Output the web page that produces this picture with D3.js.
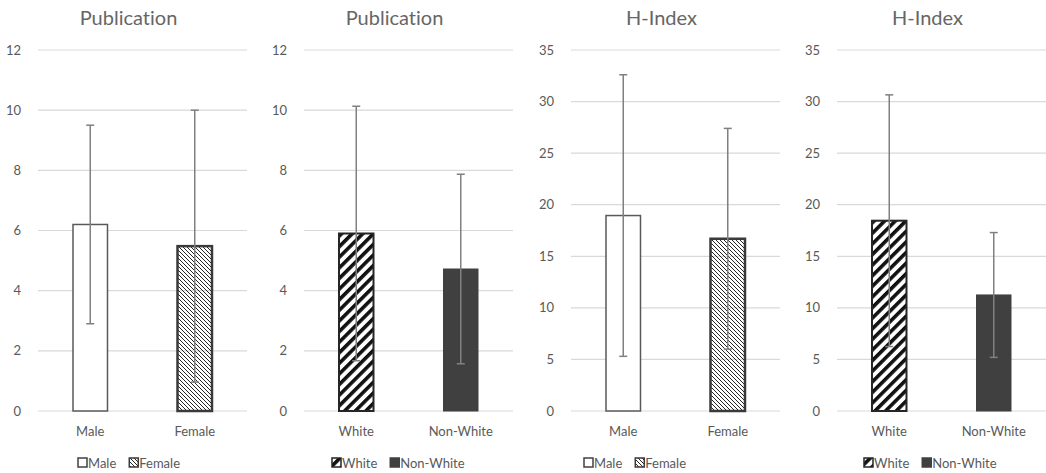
<!DOCTYPE html>
<html>
<head>
<meta charset="utf-8">
<script src="https://cdn.jsdelivr.net/npm/d3@7"></script>
<style>
  body { margin: 0; background: #fff; }
  text { font-family: Lato, "Liberation Sans", sans-serif; fill: #595959; font-variant-ligatures: none; }
</style>
</head>
<body>
<div id="chart"></div>
<script>
// values (mean and SD for each group)
const titles = ["Publication", "Publication", "H-Index", "H-Index"];
const categories = [["Male", "Female"], ["White", "Non-White"], ["Male", "Female"], ["White", "Non-White"]];
const means = [[6.2, 5.48], [5.9, 4.72], [18.95, 16.7], [18.45, 11.25]];
const sds = [[3.3, 4.52], [4.23, 3.15], [13.65, 10.7], [12.2, 6.05]];
const yMax = [12, 12, 35, 35];
const tickStep = [2, 2, 5, 5];

const width = 1046;
const height = 473;
const plotLeft = [38, 304, 571, 837];
const plotWidth = 209;
const legendLeft = [77, 331, 583, 863];

const svg = d3.select("#chart").append("svg")
  .attr("width", width)
  .attr("height", height);

// fill patterns
const defs = svg.append("defs");

defs.append("pattern")
  .attr("id", "hatch")
  .attr("patternUnits", "userSpaceOnUse")
  .attr("width", 4)
  .attr("height", 4)
  .append("path")
  .attr("d", "M-1,3 l2,2 M0,0 l4,4 M3,-1 l2,2")
  .attr("stroke", "#262626")
  .attr("stroke-width", 1);

const stripe = defs.append("pattern")
  .attr("id", "stripes")
  .attr("patternUnits", "userSpaceOnUse")
  .attr("width", 7.5)
  .attr("height", 10)
  .attr("patternTransform", "rotate(45)");
stripe.append("rect").attr("width", 7.5).attr("height", 10).attr("fill", "#fff");
stripe.append("rect").attr("width", 3.6).attr("height", 10).attr("fill", "#111");

const styles = {
  "Male": { fill: "#fff", stroke: "#595959", sw: 1.5 },
  "Female": { fill: "url(#hatch)", stroke: "#3a3a3a", sw: 2.5 },
  "White": { fill: "url(#stripes)", stroke: "#262626", sw: 2 },
  "Non-White": { fill: "#404040", stroke: "#404040", sw: 1 }
};

titles.forEach((title, p) => {
  const g = svg.append("g");
  const x0 = plotLeft[p];

  const y = d3.scaleLinear().domain([0, yMax[p]]).range([411, 50]);
  const x = d3.scaleBand()
    .domain(categories[p])
    .range([x0, x0 + plotWidth])
    .paddingInner(0.67)
    .paddingOuter(0.335);

  const ticks = d3.range(0, yMax[p] + 0.001, tickStep[p]);

  // gridlines
  g.selectAll("line.grid")
    .data(ticks)
    .join("line")
    .attr("class", "grid")
    .attr("x1", x0)
    .attr("x2", x0 + plotWidth)
    .attr("y1", d => y(d))
    .attr("y2", d => y(d))
    .attr("stroke", "#d9d9d9")
    .attr("stroke-width", 1.2);

  // y tick labels
  g.selectAll("text.tick")
    .data(ticks)
    .join("text")
    .attr("class", "tick")
    .attr("x", x0 - 17)
    .attr("y", d => y(d))
    .attr("dy", "0.35em")
    .attr("text-anchor", "end")
    .style("font-size", "13px")
    .text(d => d);

  // title
  g.append("text")
    .attr("x", x0 + plotWidth / 2 - 14)
    .attr("y", 25)
    .attr("text-anchor", "middle")
    .style("font-size", "20px")
    .style("fill", "#666")
    .text(title);

  // bars
  g.selectAll("rect.bar")
    .data(categories[p])
    .join("rect")
    .attr("class", "bar")
    .attr("x", d => x(d))
    .attr("width", x.bandwidth())
    .attr("y", (d, i) => y(means[p][i]))
    .attr("height", (d, i) => y(0) - y(means[p][i]))
    .attr("fill", d => styles[d].fill)
    .attr("stroke", d => styles[d].stroke)
    .attr("stroke-width", d => styles[d].sw);

  // error bars
  const err = g.selectAll("g.err")
    .data(categories[p])
    .join("g")
    .attr("class", "err")
    .attr("stroke", "#808080")
    .attr("stroke-width", 1.5);

  const cx = d => x(d) + x.bandwidth() / 2;
  const hi = (d, i) => y(means[p][i] + sds[p][i]);
  const lo = (d, i) => y(means[p][i] - sds[p][i]);

  err.append("line")
    .attr("x1", cx).attr("x2", cx)
    .attr("y1", hi).attr("y2", lo);
  err.append("line")
    .attr("x1", d => cx(d) - 4).attr("x2", d => cx(d) + 4)
    .attr("y1", hi).attr("y2", hi);
  err.append("line")
    .attr("x1", d => cx(d) - 4).attr("x2", d => cx(d) + 4)
    .attr("y1", lo).attr("y2", lo);

  // category labels
  g.selectAll("text.cat")
    .data(categories[p])
    .join("text")
    .attr("class", "cat")
    .attr("x", cx)
    .attr("y", 436)
    .attr("text-anchor", "middle")
    .style("font-size", "13px")
    .text(d => d);

  // legend
  let lx = legendLeft[p];
  categories[p].forEach(c => {
    const s = styles[c];
    g.append("rect")
      .attr("x", lx + 1)
      .attr("y", 458)
      .attr("width", 9)
      .attr("height", 9)
      .attr("fill", s.fill)
      .attr("stroke", c === "Male" ? "#404040" : s.stroke)
      .attr("stroke-width", 1.5);
    const t = g.append("text")
      .attr("x", lx + 11)
      .attr("y", 468)
      .style("font-size", "13px")
      .text(c);
    lx += 11 + t.node().getComputedTextLength() + 12;
  });
});
</script>
</body>
</html>
